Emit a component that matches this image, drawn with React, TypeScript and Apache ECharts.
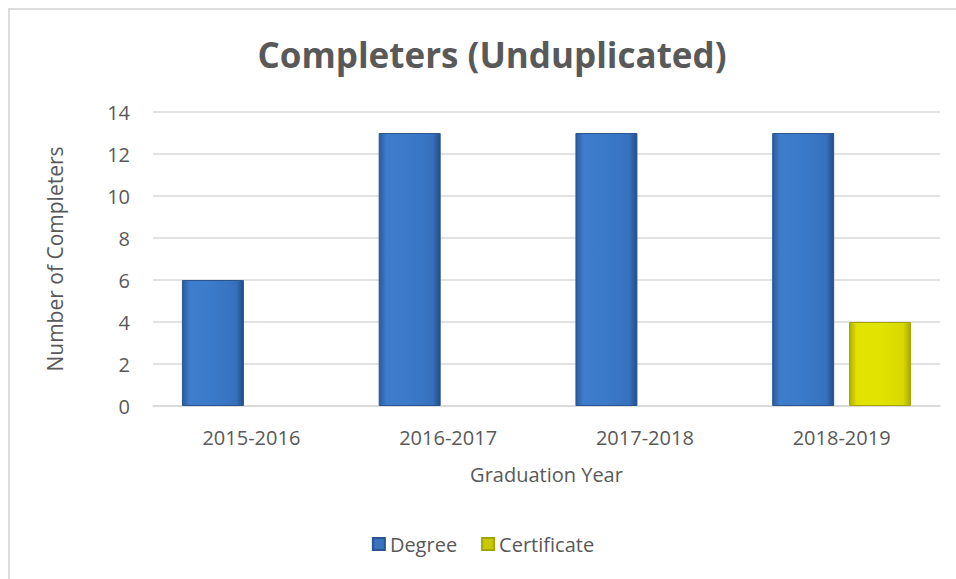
import React, { useEffect, useRef } from "react";
import * as echarts from "echarts";

const categories = ["2015-2016", "2016-2017", "2017-2018", "2018-2019"];
const degreeValues = [6, 13, 13, 13];
const certificateValues: (number | null)[] = [null, null, null, 4];
const yTicks = { min: 0, max: 14, interval: 2 };

export default function App() {
  const ref = useRef<HTMLDivElement>(null);
  useEffect(() => {
    if (!ref.current) return;
    const chart = echarts.init(ref.current, undefined, { renderer: "svg" });
    const font = "'Open Sans', 'Noto Sans', sans-serif";
    const blue = new echarts.graphic.LinearGradient(0, 0, 1, 0, [
      { offset: 0, color: "#2a5b9c" },
      { offset: 0.12, color: "#3d7dcc" },
      { offset: 0.5, color: "#3b7ac9" },
      { offset: 0.88, color: "#3671bd" },
      { offset: 1, color: "#234d86" },
    ]);
    const yellow = new echarts.graphic.LinearGradient(0, 0, 1, 0, [
      { offset: 0, color: "#b0b000" },
      { offset: 0.12, color: "#e2e200" },
      { offset: 0.5, color: "#e3e300" },
      { offset: 0.88, color: "#d8d800" },
      { offset: 1, color: "#a8a800" },
    ]);
    chart.setOption({
      animation: false,
      backgroundColor: "#ffffff",
      title: {
        text: "Completers (Unduplicated)",
        left: 477,
        top: 22,
        textAlign: "center",
        textStyle: { fontFamily: font, fontSize: 35, fontWeight: "bold", color: "#595959" },
      },
      grid: { left: 143, right: 16, top: 102, bottom: 173, containLabel: false },
      legend: {
        top: 519,
        left: "center",
        itemWidth: 12,
        itemHeight: 12,
        itemGap: 24,
        itemTextGap: 8,
        icon: "rect",
        textStyle: { fontFamily: font, fontSize: 20, color: "#595959" },
        data: [
          { name: "Degree", itemStyle: { color: "#3a73bd" } },
          { name: "Certificate", itemStyle: { color: "#c9c900" } },
        ],
      },
      xAxis: {
        type: "category",
        data: categories,
        name: "Graduation Year",
        nameLocation: "middle",
        nameGap: 58,
        nameTextStyle: { fontFamily: font, fontSize: 20, color: "#595959" },
        axisLine: { lineStyle: { color: "#d9d9d9", width: 1.5 } },
        axisTick: { show: false },
        axisLabel: { fontFamily: font, fontSize: 20, color: "#595959", margin: 21 },
      },
      yAxis: {
        type: "value",
        min: yTicks.min,
        max: yTicks.max,
        interval: yTicks.interval,
        name: "Number of Completers",
        nameLocation: "middle",
        nameGap: 88,
        nameRotate: 90,
        nameTextStyle: { fontFamily: font, fontSize: 21, color: "#595959" },
        axisLine: { show: false },
        axisTick: { show: false },
        splitLine: { lineStyle: { color: "#d9d9d9", width: 1.5 } },
        axisLabel: { fontFamily: font, fontSize: 20, color: "#595959", margin: 23 },
      },
      series: [
        {
          name: "Degree",
          type: "bar",
          data: degreeValues,
          barWidth: 62,
          barGap: "24%",
          itemStyle: { color: blue, borderColor: "#2a5590", borderWidth: 1 },
        },
        {
          name: "Certificate",
          type: "bar",
          data: certificateValues,
          barWidth: 62,
          barGap: "24%",
          itemStyle: { color: yellow, borderColor: "#a5a500", borderWidth: 1 },
        },
      ],
    });
    return () => chart.dispose();
  }, []);
  return (
    <div
      style={{
        position: "fixed",
        left: 0,
        top: 0,
        right: 0,
        bottom: 0,
        background: "#ffffff",
        overflow: "hidden",
      }}
    >
      <div
        style={{
          position: "absolute",
          left: 8,
          top: 8,
          width: 960,
          height: 580,
          boxSizing: "border-box",
          borderTop: "2px solid #dcdcdc",
          borderLeft: "2px solid #dcdcdc",
        }}
      >
        <div ref={ref} style={{ width: 946, height: 569 }} />
      </div>
    </div>
  );
}
